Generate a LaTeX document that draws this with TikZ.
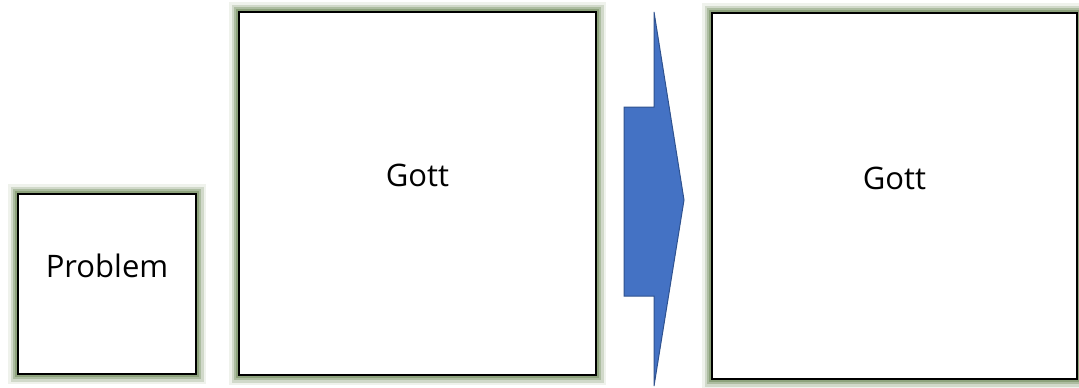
\documentclass[tikz,border=0pt]{standalone}
\usepackage{fontspec}
\setmainfont{Open Sans}
\definecolor{glowgreen}{RGB}{120,145,100}
\definecolor{arrowblue}{RGB}{68,114,196}
\definecolor{arrowedge}{RGB}{47,82,143}
\begin{document}
\begin{tikzpicture}[x=1pt,y=-1pt,
	glowbox/.style={draw=black,line width=2pt,fill=white,inner sep=0pt,
		font=\fontsize{31}{38}\selectfont,text height=24pt,text depth=38pt,
		preaction={draw=glowgreen,line width=20pt,opacity=0.12},
		preaction={draw=glowgreen,line width=15pt,opacity=0.25},
		preaction={draw=glowgreen,line width=10pt,opacity=0.4},
		preaction={draw=glowgreen,line width=6pt,opacity=0.6}},
	bigarrow/.style={fill=arrowblue,draw=arrowedge,line width=1pt,line join=miter}]
	
	\useasboundingbox (0,0) rectangle (1079,388);
	
	\node[glowbox,minimum width=178pt,minimum height=180pt](problem) at (107,284) {Problem};
	\node[glowbox,minimum width=357pt,minimum height=363pt](gott) at (417.5,193.5) {Gott};
	\node[glowbox,minimum width=365pt,minimum height=366pt](gott2) at (894.5,196) {Gott};
	
	% pfeil
	\draw[bigarrow] (654,12) -- (684,200) -- (654,386) -- (654,296)
		-- (624,296) -- (624,107) -- (654,107) -- cycle;
\end{tikzpicture}
\end{document}
